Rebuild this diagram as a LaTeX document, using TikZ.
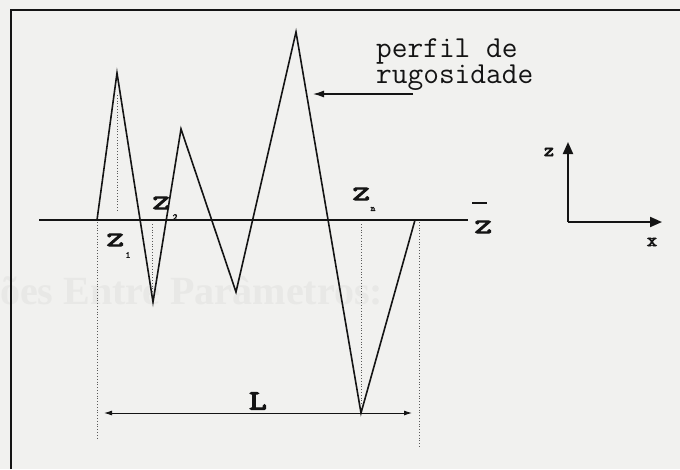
\documentclass[tikz,border=0pt]{standalone}
\usepackage{fontspec}
\setmainfont{Liberation Serif}
\newfontfamily\courb[FakeBold=4]{lmmono10-regular.otf}
\usetikzlibrary{arrows.meta}
\definecolor{paper}{RGB}{241,241,239}
\definecolor{ink}{RGB}{20,20,20}
\definecolor{ghost}{RGB}{232,232,230}
\tikzset{
  prof/.style={draw=ink, line width=1.6pt, line join=miter},
  base/.style={draw=ink, line width=1.7pt},
  frame/.style={draw=ink, line width=1.3pt},
  guide/.style={draw=ink!70, line width=0.8pt, dotted},
  zlab/.style={font=\courb\fontsize{20}{20}\selectfont, text=ink, inner sep=0pt, xscale=1.7, transform shape},
  sublab/.style={font=\courb\fontsize{9}{9}\selectfont, text=ink, inner sep=0pt},
  txt/.style={font=\ttfamily\fontsize{30.5}{26}\selectfont, text=ink, inner sep=0pt, align=left, anchor=north west},
  axis/.style={draw=ink, line width=2pt, -{Triangle[length=12pt,width=10pt]}},
  axlab/.style={font=\courb\fontsize{19}{19}\selectfont, text=ink, inner sep=0pt},
}
\begin{document}
\begin{tikzpicture}[x=1pt,y=-1pt]
\fill[paper] (0,0) rectangle (680,469);
\useasboundingbox (0,0) rectangle (680,469);
% ghost bleed-through text
\node[font=\bfseries\fontsize{40}{40}\selectfont, text=ghost, anchor=base west, inner sep=0pt] (ghost) at (0,304) {ões Entre Parâmetros:};
% frame
\draw[frame] (11,469) -- (11,10) -- (680,10);
% mean line
\coordinate (b0) at (39,220);
\coordinate (b1) at (468,220);
\draw[base] (b0) -- (b1);
% profile
\coordinate (p0) at (97,220);
\coordinate (p1) at (117,73);
\coordinate (p2) at (153,302);
\coordinate (p3) at (181,129);
\coordinate (p4) at (236,292);
\coordinate (p5) at (296,32);
\coordinate (p6) at (361,413);
\coordinate (p7) at (415,220);
\draw[prof] (p0) -- (p1) -- (p2) -- (p3) -- (p4) -- (p5) -- (p6) -- (p7);
% dotted guides
\coordinate (d1a) at (97,222); \coordinate (d1b) at (97,438);
\coordinate (d2a) at (117,95); \coordinate (d2b) at (117,210);
\coordinate (d3a) at (152,224); \coordinate (d3b) at (152,294);
\coordinate (d4a) at (361,224); \coordinate (d4b) at (361,405);
\coordinate (d5a) at (419,222); \coordinate (d5b) at (419,447);
\draw[guide] (d1a) -- (d1b);
\draw[guide] (d2a) -- (d2b);
\draw[guide] (d3a) -- (d3b);
\draw[guide] (d4a) -- (d4b);
\draw[guide] (d5a) -- (d5b);
% L dimension
\coordinate (La) at (104,413);
\coordinate (Lb) at (412,413);
\draw[draw=ink, line width=0.9pt, {Latex[length=8pt,width=5pt]}-{Latex[length=8pt,width=5pt]}] (La) -- (Lb);
\node[font=\courb\fontsize{28}{28}\selectfont, text=ink, inner sep=0pt, xscale=1.2, transform shape] (L) at (258,401) {L};
% labels Z
\node[zlab] (z1) at (115,240) {Z};
\node[sublab] (z1s) at (128,255) {1};
\node[zlab] (z2) at (161,203) {Z};
\node[sublab] (z2s) at (175,217) {2};
\node[zlab] (zn) at (361,194) {Z};
\node[sublab] (zns) at (373,209) {n};
\node[zlab] (zb) at (483,227) {Z};
\coordinate (bar0) at (472,203);
\coordinate (bar1) at (487,203);
\draw[draw=ink, line width=1.2pt] (bar0) -- (bar1);
% profile label
\node[txt] (t1) at (376,38) {perfil de\\rugosidade};
\coordinate (arA) at (413,94);
\coordinate (arB) at (313,94);
\draw[draw=ink, line width=1.3pt, -{Latex[length=11pt,width=7pt]}] (arA) -- (arB);
% axes
\coordinate (o) at (568,222);
\coordinate (zt) at (568,142);
\coordinate (xt) at (662,222);
\draw[axis] (o) -- (zt);
\draw[axis] (o) -- (xt);
\node[axlab] (zl) at (549,152) {z};
\node[axlab] (xl) at (652,242) {x};
\end{tikzpicture}
\end{document}
